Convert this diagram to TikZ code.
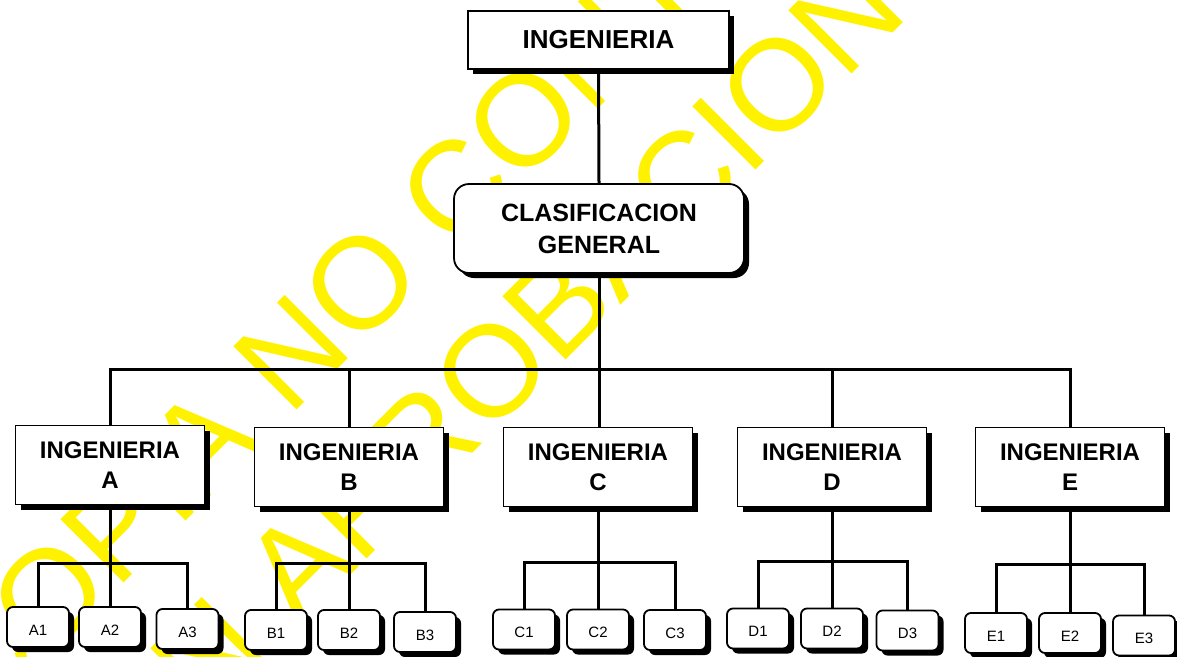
\documentclass[tikz,border=0pt]{standalone}
\usepackage{fontspec}
\setmainfont{Liberation Sans}
\usetikzlibrary{shadows}
\begin{document}
\begin{tikzpicture}[x=1pt,y=-1pt,
  conn/.style={line width=3pt},
  wm/.style={text=yellow, font=\fontsize{130}{156}\selectfont, inner sep=0pt, rotate=45, anchor=base west},
  shad/.style={drop shadow={shadow xshift=5pt, shadow yshift=-5pt, fill=black, opacity=1}},
  topbox/.style={draw, line width=1.8pt, fill=white, inner sep=0pt, align=center, shad,
     minimum width=261pt, minimum height=58pt, font=\bfseries\fontsize{26}{32}\selectfont},
  clasbox/.style={draw, line width=1.8pt, fill=white, inner sep=0pt, align=center, shad, rounded corners=15pt,
     minimum width=290pt, minimum height=89pt, font=\bfseries\fontsize{25}{32}\selectfont},
  engbox/.style={draw, line width=1.8pt, fill=white, inner sep=0pt, align=center, shad,
     minimum width=189pt, minimum height=79pt, font=\bfseries\fontsize{24}{30}\selectfont},
  subbox/.style={draw, line width=1.8pt, fill=white, inner sep=0pt, align=center, shad, rounded corners=6pt,
     minimum width=62pt, minimum height=40pt, text height=16pt, text depth=0pt, font=\fontsize{15}{18}\selectfont}
]
\useasboundingbox (0,0) rectangle (1177,656);
\fill[white] (0,0) rectangle (1177,656);
\begin{scope}
  \clip (0,0) rectangle (1177,656);
  \node[wm] (wm1) at (-22,729) {COPIA NO CONTROLADA};
  \node[wm] (wm2) at (145,781) {EN APROBACION};
\end{scope}

% main boxes
\node[topbox] (top) at (598.5,40) {INGENIERIA};
\node[clasbox] (clas) at (599,228.5) {CLASIFICACION\\GENERAL};

\node[engbox] (A) at (110,465) {INGENIERIA\\A};
\node[engbox] (B) at (349,467) {INGENIERIA\\B};
\node[engbox] (C) at (598,467) {INGENIERIA\\C};
\node[engbox] (D) at (832,467) {INGENIERIA\\D};
\node[engbox] (E) at (1070,467) {INGENIERIA\\E};

\node[subbox] (A1) at (38,627) {A1};
\node[subbox] (A2) at (110,627) {A2};
\node[subbox] (A3) at (187.5,629) {A3};
\node[subbox] (B1) at (276,630) {B1};
\node[subbox] (B2) at (349,630) {B2};
\node[subbox] (B3) at (425,632) {B3};
\node[subbox] (C1) at (524,629.5) {C1};
\node[subbox] (C2) at (598,629.5) {C2};
\node[subbox] (C3) at (675,630) {C3};
\node[subbox] (D1) at (758,628.5) {D1};
\node[subbox] (D2) at (832,628.5) {D2};
\node[subbox] (D3) at (907.5,630.5) {D3};
\node[subbox] (E1) at (996,633) {E1};
\node[subbox] (E2) at (1070,633) {E2};
\node[subbox] (E3) at (1144,635.5) {E3};

% connectors
\coordinate (bus) at (0,369);
\draw[conn] (top.south) -- (clas.north);
\draw[conn] (clas.south) -- (clas.south |- C.north);
\draw[conn] (A.north) -- (A.north |- bus) -- (E.north |- bus) -- (E.north);
\draw[conn] (B.north) -- (B.north |- bus);
\draw[conn] (D.north) -- (D.north |- bus);

\coordinate (sA) at (0,563);
\coordinate (sB) at (0,563);
\coordinate (sC) at (0,562);
\coordinate (sD) at (0,561);
\coordinate (sE) at (0,564);
\foreach \g in {A,B,C,D,E}{
  \draw[conn] (\g.south) -- (\g2.north);
  \draw[conn] (\g1.north) -- (\g1.north |- s\g) -- (\g3.north |- s\g) -- (\g3.north);
}
\end{tikzpicture}
\end{document}
